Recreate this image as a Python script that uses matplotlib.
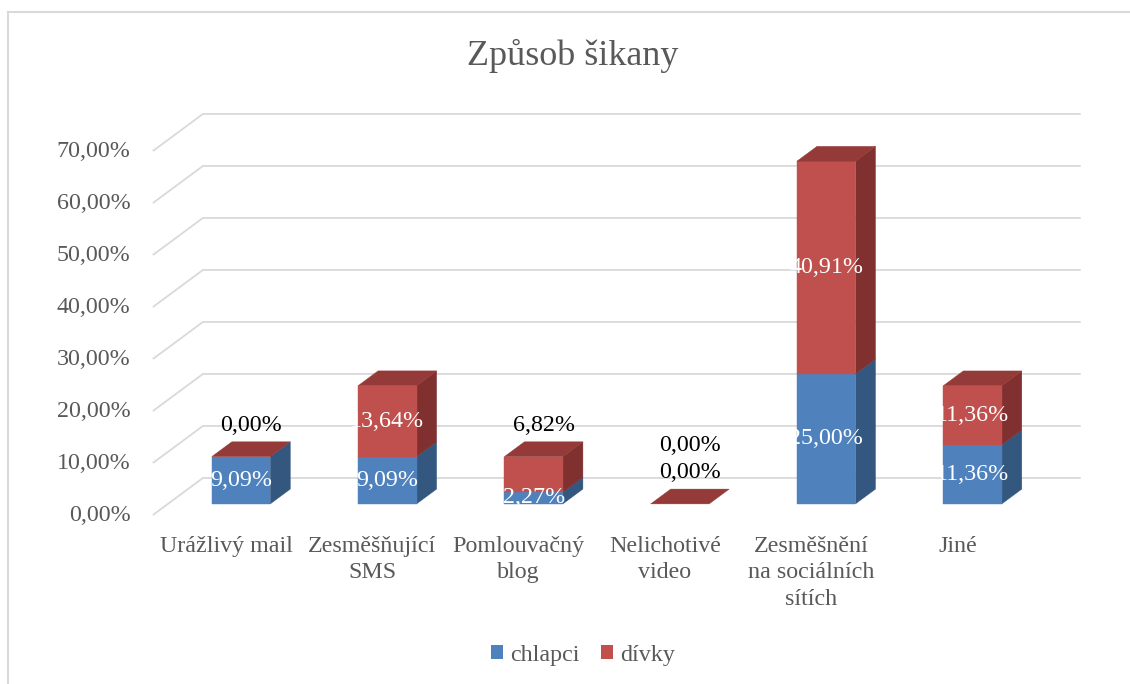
import matplotlib.pyplot as plt
from matplotlib.patches import Polygon, Patch
from matplotlib.lines import Line2D

categories = ["Urážlivý mail", "Zesměšňující\nSMS", "Pomlouvačný\nblog",
              "Nelichotivé\nvideo", "Zesměšnění\nna sociálních\nsítích", "Jiné"]
chlapci = [9.09, 9.09, 2.27, 0.00, 25.00, 11.36]
divky = [0.00, 13.64, 6.82, 0.00, 40.91, 11.36]
y_ticks = [0, 10, 20, 30, 40, 50, 60, 70]
series_names = ["chlapci", "dívky"]

# where each data label sits (inside the segment or above the bar)
blue_inside = [True, True, True, False, True, True]
red_inside = [False, True, False, False, True, True]

plt.rcParams['font.family'] = ['Liberation Serif', 'DejaVu Serif']

GREY = '#595959'
GRID = '#d9d9d9'
BLUE, BLUE_SIDE = '#4f81bd', '#34577f'
RED, RED_SIDE, RED_TOP = '#c0504d', '#7f302f', '#943a38'

# fake 3D: depth vector of the wall, bar placement inside the depth
DX, DY = 0.342, 7.12
D0, DD = 0.3, 0.4
W = 0.4
FS = 17.3


def fmt(v):
    return f"{v:.2f}".replace('.', ',') + '%'


fig = plt.figure(figsize=(11.3, 6.84), dpi=100)
ax = fig.add_axes([0, 0, 1, 1])
ax.set_xlim(-1.545, 6.179)
ax.set_ylim(-32.5, 99.04)
ax.axis('off')

# gridlines: diagonal on the left side wall + line on the back wall
for v in y_ticks:
    ax.plot([-0.5, -0.5 + DX, 5.5 + DX], [v, v + DY, v + DY],
            color=GRID, lw=1.3, solid_capstyle='butt', zorder=1)
    ax.annotate(fmt(v), (-0.5, v), xytext=(-16, 0), textcoords='offset points',
                ha='right', va='center', fontsize=FS, color=GREY)


def face(pts, color):
    ax.add_patch(Polygon(pts, closed=True, facecolor=color, edgecolor=color,
                         lw=0.3, zorder=3))


def segment(c, y0, y1, front, side):
    xl, xr = c - W / 2 + D0 * DX, c + W / 2 + D0 * DX
    yb, yt = y0 + D0 * DY, y1 + D0 * DY
    bx, by = DD * DX, DD * DY
    face([(xr, yb), (xr + bx, yb + by), (xr + bx, yt + by), (xr, yt)], side)
    face([(xl, yb), (xr, yb), (xr, yt), (xl, yt)], front)


def top(c, y, color):
    xl, xr = c - W / 2 + D0 * DX, c + W / 2 + D0 * DX
    yt = y + D0 * DY
    bx, by = DD * DX, DD * DY
    face([(xl, yt), (xr, yt), (xr + bx, yt + by), (xl + bx, yt + by)], color)


for i in range(len(categories)):
    b, r = chlapci[i], divky[i]
    if b > 0:
        segment(i, 0, b, BLUE, BLUE_SIDE)
    if r > 0:
        segment(i, b, b + r, RED, RED_SIDE)
    top(i, b + r, RED_TOP)

    stack_top = b + r
    k = 0
    for val, y0, inside in [(b, 0, blue_inside[i]), (r, b, red_inside[i])]:
        if inside:
            ax.text(i + D0 * DX, y0 + val / 2 + D0 * DY, fmt(val), ha='center',
                    va='center', fontsize=FS, color='white', zorder=5)
        else:
            ax.annotate(fmt(val), (i + (D0 + DD / 2) * DX, stack_top + (D0 + DD / 2) * DY),
                        xytext=(0, 17 + 20 * k), textcoords='offset points',
                        ha='center', va='center', fontsize=FS, color='black', zorder=5)
            k += 1

    ax.annotate(categories[i], (i, 0), xytext=(0, -15), textcoords='offset points',
                ha='center', va='top', fontsize=FS, color=GREY, linespacing=1.35)

fig.text(573 / 1130, 1 - 56 / 684, "Způsob šikany", ha='center', va='center',
         fontsize=26, color=GREY)

handles = [Patch(facecolor=BLUE), Patch(facecolor=RED)]
ax.legend(handles, series_names, loc='center', bbox_to_anchor=(583 / 1130, 1 - 655 / 684),
          bbox_transform=fig.transFigure, ncol=2, frameon=False, fontsize=FS,
          handlelength=0.5, handleheight=0.5, handletextpad=0.3, columnspacing=0.9,
          labelcolor=GREY)

# chart area border (top and left edges visible)
fig.add_artist(Line2D([8 / 1130, 1], [1 - 12 / 684] * 2, color=GRID, lw=1.5,
                      transform=fig.transFigure))
fig.add_artist(Line2D([8 / 1130] * 2, [0, 1 - 12 / 684], color=GRID, lw=1.5,
                      transform=fig.transFigure))

fig.savefig('out.png', dpi=100)
